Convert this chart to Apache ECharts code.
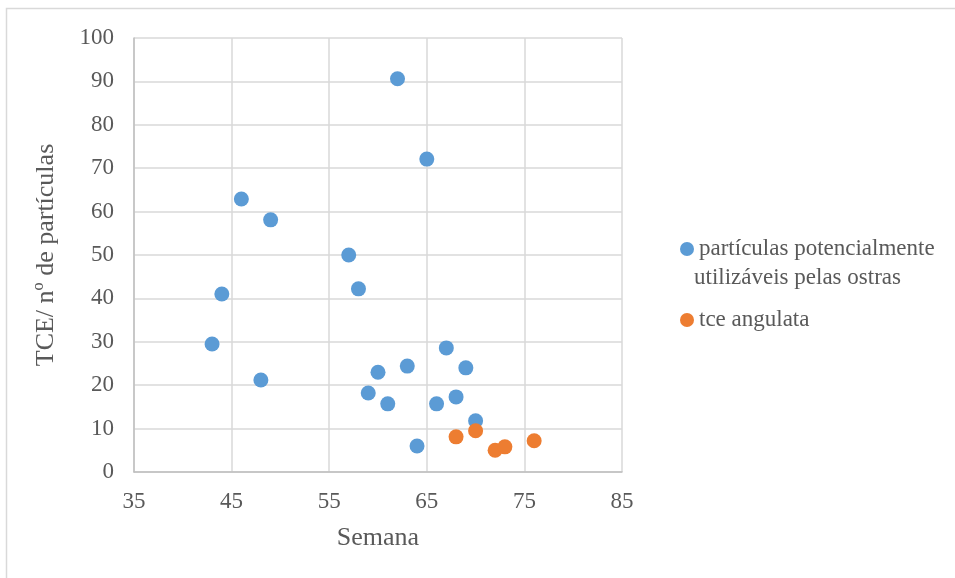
<!DOCTYPE html>
<html>
<head>
<meta charset="utf-8">
<script src="https://cdn.jsdelivr.net/npm/echarts@6/dist/echarts.min.js"></script>
<style>
  html, body { margin: 0; padding: 0; background: #ffffff; }
  #chart { width: 955px; height: 578px; }
</style>
</head>
<body>
<div id="chart"></div>
<script>
// Weekly observations (Semana) and values per series
const particulasSemana = [62, 65, 46, 49, 57, 58, 44, 43, 67, 48, 63, 60, 69, 59, 61, 66, 68, 70, 64];
const particulasValor  = [90.6, 72.1, 62.9, 58.1, 50.0, 42.2, 41.0, 29.5, 28.6, 21.2, 24.4, 23.0, 24.0, 18.2, 15.7, 15.7, 17.3, 11.8, 6.0];
const tceSemana = [68, 70, 72, 73, 76];
const tceValor  = [8.1, 9.5, 5.0, 5.8, 7.2];

const seriesNames = ['partículas potencialmente', 'tce angulata'];
const legendSecondLine = 'utilizáveis pelas ostras';
const xAxisTitle = 'Semana';
const yAxisTitle = 'TCE/ nº de partículas';

const xMin = 35, xMax = 85, xStep = 10;
const yMin = 0, yMax = 100, yStep = 10;

const FONT = '"Liberation Serif", "Times New Roman", serif';
const TEXT = '#595959';

function pairs(xs, ys) { return xs.map((x, i) => [x, ys[i]]); }

const chart = echarts.init(document.getElementById('chart'), null, { renderer: 'canvas' });

chart.setOption({
  backgroundColor: '#ffffff',
  animation: false,
  grid: { left: 134, top: 38, right: 333, bottom: 106, containLabel: false },
  xAxis: {
    type: 'value', min: xMin, max: xMax, interval: xStep,
    name: xAxisTitle, nameLocation: 'middle', nameGap: 53,
    nameTextStyle: { fontFamily: FONT, fontSize: 26, color: TEXT },
    axisLine: { show: true, lineStyle: { color: '#bfbfbf', width: 1.5 } },
    axisTick: { show: false },
    axisLabel: { fontFamily: FONT, fontSize: 23, color: TEXT, margin: 18 },
    splitLine: { show: true, lineStyle: { color: '#d9d9d9', width: 1.5 } }
  },
  yAxis: {
    type: 'value', min: yMin, max: yMax, interval: yStep,
    name: yAxisTitle, nameLocation: 'middle', nameGap: 75, nameRotate: 90,
    nameTextStyle: { fontFamily: FONT, fontSize: 26, color: TEXT },
    axisLine: { show: true, lineStyle: { color: '#bfbfbf', width: 1.5 } },
    axisTick: { show: false },
    axisLabel: { fontFamily: FONT, fontSize: 23, color: TEXT, margin: 20 },
    splitLine: { show: true, lineStyle: { color: '#d9d9d9', width: 1.5 } }
  },
  legend: {
    orient: 'vertical', left: 675, top: 232, itemGap: 47,
    icon: 'circle', itemWidth: 14, itemHeight: 14,
    textStyle: { fontFamily: FONT, fontSize: 23, color: TEXT, lineHeight: 24 },
    data: seriesNames
  },
  graphic: [
    {
      type: 'rect', silent: true, z: -10,
      shape: { x: 6.5, y: 8.5, width: 1200, height: 1200 },
      style: { fill: 'none', stroke: '#d9d9d9', lineWidth: 1.5 }
    },
    {
      type: 'text', silent: true,
      style: { text: legendSecondLine, x: 694, y: 278, verticalAlign: 'middle',
               font: '23px ' + FONT, fill: TEXT }
    }
  ],
  series: [
    {
      name: seriesNames[0], type: 'scatter', symbol: 'circle', symbolSize: 15,
      itemStyle: { color: '#5B9BD5', opacity: 1 },
      data: pairs(particulasSemana, particulasValor)
    },
    {
      name: seriesNames[1], type: 'scatter', symbol: 'circle', symbolSize: 15,
      itemStyle: { color: '#ED7D31', opacity: 1 },
      data: pairs(tceSemana, tceValor)
    }
  ]
});
</script>
</body>
</html>
